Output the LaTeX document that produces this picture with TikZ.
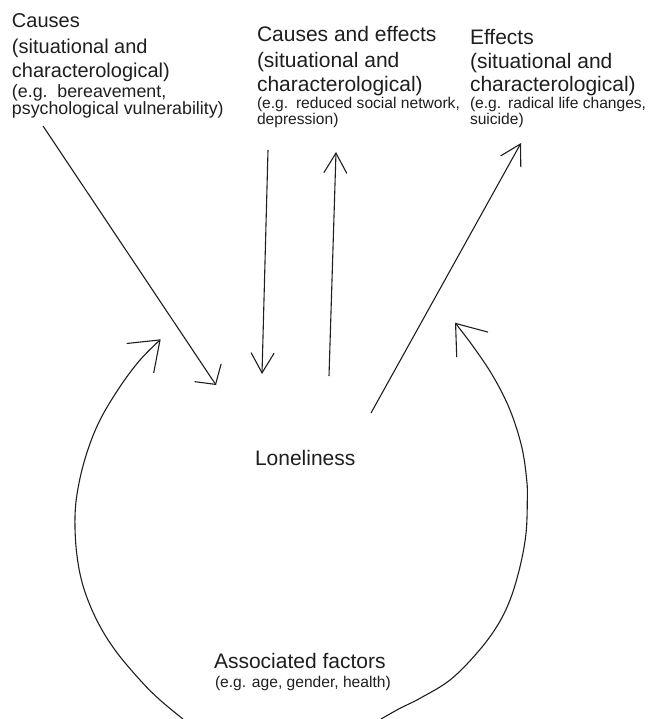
\documentclass[tikz,border=0pt]{standalone}
\usepackage{fontspec}
\setmainfont{Liberation Sans}
\usetikzlibrary{arrows.meta}
\definecolor{ink}{HTML}{1E1E1E}
\begin{document}
\begin{tikzpicture}[x=1pt,y=-1pt,
  txt/.style={anchor=base west,inner sep=0pt,outer sep=0pt,text=ink},
  bigA/.style={txt,font=\fontsize{20}{24}\selectfont},
  smallA/.style={txt,font=\fontsize{17.8}{21}\selectfont},
  bigB/.style={txt,font=\fontsize{21}{25}\selectfont},
  smallB/.style={txt,font=\fontsize{15.6}{19}\selectfont},
  conn/.style={draw=ink,line width=1.1pt,line join=miter},
  wideTip/.style={conn,-{Straight Barb[length=14pt,width=32pt]}},
  narrowTip/.style={conn,-{Straight Barb[length=20pt,width=23pt]}},
  arcTip/.style={conn,-{Straight Barb[length=27pt,width=40pt]}}]
\useasboundingbox (0,0) rectangle (650,719);

% Causes block
\node[bigA] (c1) at (12,28) {Causes};
\node[bigA] (c2) at (12,53.5) {(situational and};
\node[bigA] (c3) at (12,78) {characterological)};
\node[smallA] (c4) at (12,97.5) {(e.g.\hspace{0.55em}bereavement,};
\node[smallA] (c5) at (12,115) {psychological vulnerability)};

% Causes and effects block
\node[bigB] (ce1) at (257,42) {Causes and effects};
\node[bigB] (ce2) at (257,68) {(situational and};
\node[bigB] (ce3) at (257,92) {characterological)};
\node[smallB] (ce4) at (257,108.5) {(e.g.\hspace{0.5em}reduced social network,};
\node[smallB] (ce5) at (257,124.5) {depression)};

% Effects block
\node[bigB] (e1) at (470,45) {Effects};
\node[bigB] (e2) at (470,69) {(situational and};
\node[bigB] (e3) at (470,92) {characterological)};
\node[smallB] (e4) at (470,108.5) {(e.g.\hspace{0.45em}radical life changes,};
\node[smallB] (e5) at (470,124.5) {suicide)};

% Loneliness
\node[bigB] (lon) at (255,465) {Loneliness};

% Associated factors
\node[bigB] (af1) at (214,668) {Associated factors};
\node[smallB] (af2) at (215,687) {(e.g. age, gender, health)};

% connector end points
\coordinate (a1s) at (43,126);
\coordinate (a1e) at (216,385);
\coordinate (a2s) at (268,150);
\coordinate (a2e) at (262,374);
\coordinate (a3s) at (329,376);
\coordinate (a3e) at (336,152);
\coordinate (a4s) at (371,413);
\coordinate (a4e) at (521,143);
\coordinate (ls) at (183,719);
\coordinate (le) at (160.7,339.3);
\coordinate (rs) at (381,719);
\coordinate (re) at (455,322.7);

\draw[wideTip] (a1s) -- (a1e);
\draw[narrowTip] (a2s) -- (a2e);
\draw[narrowTip] (a3s) -- (a3e);
\draw[narrowTip] (a4s) -- (a4e);

\draw[arcTip] plot[smooth,tension=0.6] coordinates {(ls) (160,700) (140,680) (115,650) (96.7,620) (83.3,586.7) (76.7,553.3) (75,516.7) (78.3,486.7) (86.7,453.3) (100,420) (120,386.7) (140,360) (le)};
\draw[arcTip] plot[smooth,tension=0.6] coordinates {(rs) (400,708.3) (420,698.3) (450,680) (476.7,653.3) (496.7,626.7) (510,600) (520,566.7) (526,533.3) (527.3,500) (526.7,480) (521.7,446.7) (510,410) (493.3,376.7) (473.3,346.7) (re)};
\end{tikzpicture}
\end{document}
